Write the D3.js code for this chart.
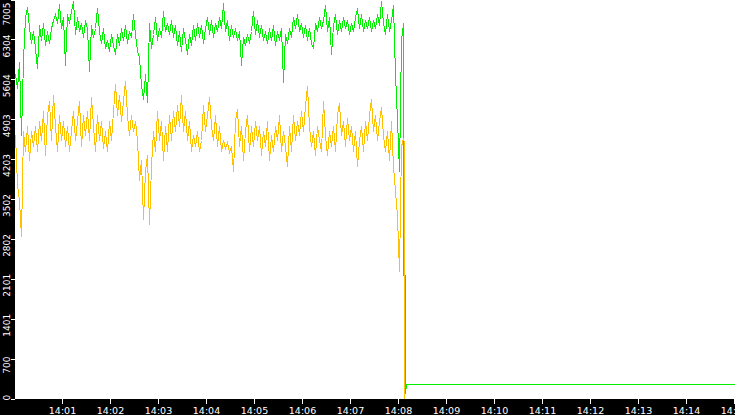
<!DOCTYPE html>
<html>
<head>
<meta charset="utf-8">
<script src="https://cdn.jsdelivr.net/npm/d3@7"></script>
<style>
  html, body { margin: 0; padding: 0; background: #000; }
  svg { display: block; }
</style>
</head>
<body>
<svg id="chart" width="735" height="415"></svg>
<script>
// ---- data ----
// samples: first at 14:00:01.25, one every 2.5 s
const sampleStartSec = 1.25;
const sampleStepSec = 2.5;

const greenValues = [
  5700, 5450, 5900, 4620, 5950, 6700, 6880, 6500, 6250, 6450,
  6150, 5800, 6550, 6300, 6600, 6200, 6450, 6250, 6500, 6650,
  6750, 6600, 6920, 6500, 6700, 5850, 6750, 6600, 6800, 6980,
  6400, 6700, 6450, 6600, 6350, 6650, 6500, 5750, 6550, 6350,
  6500, 6850, 6450, 6250, 6500, 6150, 6300, 6100, 6400, 6200,
  6050, 6400, 6200, 6500, 6300, 6550, 6250, 6450, 6350, 6750,
  6400, 6100, 6000, 5500, 5250, 5700, 5200, 6600, 6150, 6400,
  6700, 6300, 6500, 6350, 6800, 6450, 6600, 6400, 6650, 6350,
  6550, 6200, 6450, 6100, 6500, 6300, 6050, 6400, 6200, 6550,
  6300, 6600, 6350, 6550, 6250, 6500, 6700, 6400, 6650, 6350,
  6600, 6450, 6700, 6500, 6950, 6450, 6650, 6300, 6550, 6350,
  6500, 6300, 6450, 5850, 6350, 6200, 6400, 6250, 6450, 6800,
  6400, 6650, 6350, 6550, 6300, 6450, 6250, 6500, 6300, 6550,
  6200, 6450, 6300, 6500, 5550, 6400, 6250, 6500, 6350, 6700,
  6500, 6750, 6450, 6600, 6350, 6550, 6300, 6500, 6250, 6150,
  6600, 6450, 6700, 6500, 6650, 6900, 6450, 6700, 6050, 6550,
  6750, 6400, 6650, 6450, 6700, 6500, 6650, 6400, 6600, 6450,
  6700, 6850, 6500, 6750, 6450, 6650, 6500, 6700, 6450, 6650,
  6500, 6750, 6550, 6980, 6600, 6400, 6750, 6450, 6650, 6900,
  5700, 4900, 4000, 6300, 6600
];

const yellowValues = [
  4620, 3740, 3480, 2845, 4700, 4350, 4790, 4180, 4700, 4440,
  4790, 4350, 4880, 4530, 5055, 4270, 4970, 5230, 4530, 5320,
  4790, 4350, 4970, 4530, 4880, 4440, 4790, 4350, 4700, 5055,
  4530, 4880, 5230, 4440, 4970, 4620, 5055, 4530, 5285, 4790,
  4350, 4970, 4530, 4880, 4390, 4700, 4350, 4880, 4530, 5055,
  5530, 4970, 5320, 4880, 5230, 5580, 4970, 4620, 4970, 4700,
  4880, 4530, 3830, 4180, 3160, 4000, 4270, 3070, 4090, 4700,
  4350, 5055, 4530, 4880, 4180, 4790, 4350, 4970, 4530, 5055,
  4700, 5145, 4790, 5320, 4700, 5055, 4530, 4880, 4350, 4620,
  4440, 4700, 4350, 4530, 5145, 4700, 4970, 5300, 4790, 4530,
  4970, 4440, 4790, 4350, 4530, 4390, 4500, 4320, 4440, 4000,
  4880, 5090, 4440, 4790, 4180, 4700, 4970, 4350, 4790, 4440,
  4880, 4530, 4790, 4270, 4700, 4440, 4880, 4180, 4620, 4350,
  4790, 4530, 4970, 4350, 4700, 4440, 4090, 4790, 4350, 4970,
  4530, 4880, 4620, 5055, 4700, 5145, 5480, 4790, 4440, 4700,
  4270, 4790, 4530, 4350, 5215, 4620, 4270, 4700, 4440, 4790,
  4350, 4970, 5195, 4620, 4880, 4440, 4920, 4530, 4790, 4350,
  4700, 4090, 4530, 4790, 4350, 4880, 4530, 4970, 5265, 4700,
  4970, 4530, 4880, 5110, 4620, 4350, 4700, 4180, 4880, 4090,
  3650, 3210, 2245, 4440, 4565
];

// after the drop (seconds after 14:00:00, value)
const greenTailSec = [486.4, 488.6, 488.8, 489.6, 900];
const greenTailValues = [2160, 2160, 105, 246, 246];
const yellowTailSec = [487.4, 487.5];
const yellowTailValues = [4490, 0];

const yTickValues = [0, 700, 1401, 2101, 2802, 3502, 4203, 4903, 5604, 6304, 7005];
const xTickLabels = ["14:01","14:02","14:03","14:04","14:05","14:06","14:07",
                     "14:08","14:09","14:10","14:11","14:12","14:13","14:14","14:15"];

// ---- build ----
const base = new Date(2020, 0, 1, 14, 0, 0);
const at = s => new Date(base.getTime() + s * 1000);

function series(vals, tailSec, tailVals) {
  const pts = vals.map((v, i) => ({ t: at(sampleStartSec + i * sampleStepSec), v }));
  tailSec.forEach((s, i) => pts.push({ t: at(s), v: tailVals[i] }));
  return pts;
}
const green = series(greenValues, greenTailSec, greenTailValues);
const yellow = series(yellowValues, yellowTailSec, yellowTailValues);

const W = 735, H = 415;
const plotLeft = 15, plotBottom = 399;
const svg = d3.select("#chart");

svg.append("rect").attr("width", W).attr("height", H).attr("fill", "#000");
svg.append("rect").attr("x", plotLeft).attr("y", 0)
   .attr("width", W - plotLeft).attr("height", plotBottom).attr("fill", "#fff");

const x = d3.scaleTime().domain([at(0), at(900)]).range([14, 734]);
const y = d3.scaleLinear().domain([0, 7005]).range([398.5, -0.5]);

svg.append("clipPath").attr("id", "clip").append("rect")
   .attr("x", plotLeft).attr("y", 0).attr("width", W - plotLeft).attr("height", plotBottom);

// snap samples to pixel columns, as the original plotter does
const line = d3.line().x(d => Math.round(x(d.t)) + 0.5).y(d => Math.round(y(d.v)) + 0.5);
const g = svg.append("g").attr("clip-path", "url(#clip)");
g.append("path").datum(green).attr("d", line)
  .attr("fill", "none").attr("stroke", "#00f000").attr("stroke-width", 1)
  .attr("shape-rendering", "crispEdges");
g.append("path").datum(yellow).attr("d", line)
  .attr("fill", "none").attr("stroke", "#ffc000").attr("stroke-width", 1)
  .attr("shape-rendering", "crispEdges");

// X axis
const xTicks = xTickLabels.map(l => {
  const [h, m] = l.split(":").map(Number);
  return at((h - 14) * 3600 + m * 60);
});
const xAxis = d3.axisBottom(x).tickValues(xTicks).tickSize(5)
  .tickFormat((d, i) => xTickLabels[i]);
const xg = svg.append("g").attr("transform", `translate(0,${plotBottom})`).call(xAxis);
xg.select(".domain").remove();
xg.selectAll(".tick line").attr("stroke", "#fff").attr("shape-rendering", "crispEdges");
xg.selectAll(".tick text").attr("fill", "#fff").attr("y", 15).attr("dy", 0)
  .attr("font-family", "DejaVu Sans").attr("font-size", 9.5);

// Y axis
const yAxis = d3.axisLeft(y).tickValues(yTickValues).tickSize(4).tickFormat(d => String(d));
const yg = svg.append("g").attr("transform", `translate(${plotLeft},0)`).call(yAxis);
yg.select(".domain").remove();
yg.selectAll(".tick line").attr("stroke", "#fff").attr("shape-rendering", "crispEdges");
yg.selectAll(".tick text").each(function(d) {
  const t = d3.select(this);
  t.attr("fill", "#fff").attr("font-family", "DejaVu Sans").attr("font-size", 9)
   .attr("text-anchor", "middle").attr("x", 0).attr("dy", 0);
  const len = this.getComputedTextLength();
  const ty = y(d);
  let c = ty + 6;
  if (c - len / 2 < 2) c = 2 + len / 2;
  if (c + len / 2 > 400) c = 400 - len / 2;
  t.attr("transform", `translate(-5,${c - ty}) rotate(-90)`).attr("y", 0);
});
</script>
</body>
</html>
